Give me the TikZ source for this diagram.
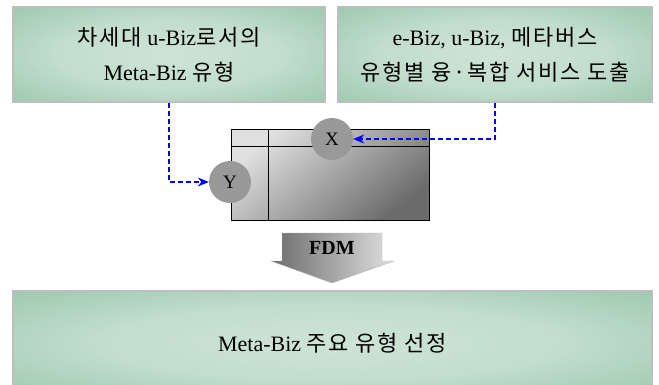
\documentclass[tikz,border=0pt]{standalone}
\usepackage{fontspec}
\setmainfont{Liberation Serif}
\newfontfamily\kr[LetterSpace=8]{Noto Sans CJK KR}
\usetikzlibrary{arrows.meta}

\definecolor{bizgreen}{RGB}{127,184,152}
\definecolor{bizpale}{RGB}{206,228,214}
\definecolor{bizline}{RGB}{190,190,190}
\pgfdeclareradialshading{glow}{\pgfpoint{0bp}{0bp}}{%
  color(0bp)=(bizpale); color(18bp)=(bizpale!85!bizgreen);
  color(50bp)=(bizgreen); color(80bp)=(bizgreen)}

\begin{document}
\begin{tikzpicture}[
    x=1pt,y=-1pt,
    >={Stealth[length=11pt,width=9pt]},
    greenbox/.style={
        draw=bizline,
        line width=1.2pt,
        shading=glow,
        inner sep=0pt,
        minimum height=95pt,
        align=center,
        font=\fontsize{22}{35}\selectfont
    },
    marker/.style={
        circle,
        fill=black!40,
        minimum size=42pt,
        inner sep=0pt,
        font=\fontsize{19}{19}\selectfont
    },
    flow/.style={
        ->,
        blue,
        line width=1.2pt,
        dash pattern=on 5pt off 3pt
    }
    ]

  \useasboundingbox (0,0) rectangle (659,385);

  \node[greenbox,minimum width=312pt] (lbox) at (169,54.5)
      {{\kr 차세대} u-Biz{\kr 로서의}\\Meta-Biz {\kr 유형}};
  \node[greenbox,minimum width=314pt] (rbox) at (495,54.5)
      {e-Biz, u-Biz, {\kr 메타버스}\\{\kr 유형별 융·복합 서비스 도출}};
  \node[greenbox,minimum width=639pt,minimum height=104pt] (bbox) at (332.5,343)
      {Meta-Biz {\kr 주요 유형 선정}};

  % matrix table
  \node[draw,line width=1pt,shade,top color=black!12,bottom color=black!58,
        shading angle=40,minimum width=198pt,minimum height=90pt,
        inner sep=0pt] (tbl) at (330,175) {};
  \draw[line width=1pt] ([yshift=-17pt]tbl.north west) -- ([yshift=-17pt]tbl.north east);
  \draw[line width=1pt] ([xshift=38pt]tbl.north west) -- ([xshift=38pt]tbl.south west);

  \node[marker] (X) at (332,139) {X};
  \node[marker] (Y) at (230,182) {Y};

  \draw[flow] (lbox.south) |- (Y.west);
  \draw[flow] (rbox.south) |- (X.east);

  % FDM arrow
  \shade[left color=black!58,right color=black!12,draw=black!30]
      (282,233) -- (382,233) -- (382,261) -- (394,261) -- (332,283)
      -- (271,261) -- (282,261) -- cycle;
  \node[font=\fontsize{20}{20}\selectfont\bfseries] (fdm) at (332,248) {FDM};

\end{tikzpicture}
\end{document}
